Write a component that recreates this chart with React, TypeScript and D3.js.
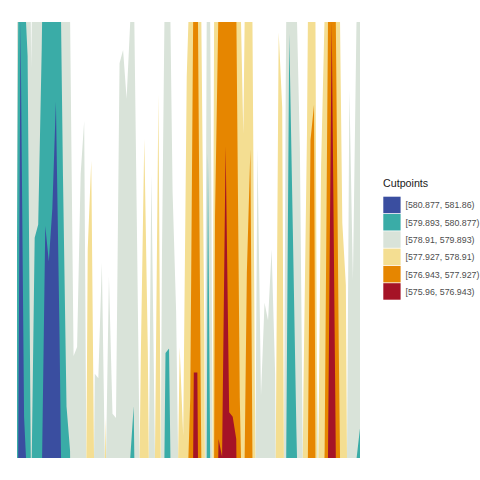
import React, { useRef, useEffect } from 'react';
import * as d3 from 'd3';

// Lake Huron levels, 1875-1972
const years = d3.range(1875, 1973);
const levels = [
  580.38, 581.86, 580.97, 580.80, 579.79, 580.39, 580.42, 580.82, 581.40, 581.32,
  581.44, 581.68, 581.17, 580.53, 580.01, 579.91, 579.14, 579.16, 579.55, 579.67,
  578.44, 578.24, 579.10, 579.09, 579.35, 578.82, 579.32, 579.01, 579.00, 579.80,
  579.83, 579.72, 579.89, 580.01, 579.37, 578.69, 578.19, 578.67, 579.55, 578.92,
  578.09, 579.37, 580.13, 580.14, 579.51, 579.24, 578.66, 578.86, 578.05, 577.79,
  576.75, 576.75, 577.82, 578.64, 580.58, 579.48, 577.38, 576.90, 576.94, 576.24,
  576.84, 576.85, 576.90, 577.79, 578.18, 577.51, 577.23, 578.42, 579.61, 579.05,
  579.26, 579.22, 579.38, 579.10, 577.95, 578.12, 579.75, 580.85, 580.41, 579.96,
  579.61, 578.76, 578.18, 577.21, 577.13, 579.10, 578.25, 577.91, 576.89, 575.96,
  576.80, 577.68, 578.38, 578.52, 579.74, 579.31, 579.89, 579.96,
];

const cutpoints = [575.96, 576.943, 577.927, 578.91, 579.893, 580.877, 581.86];
const origin = 578.91;

// legend order, top to bottom
const bandLabels = [
  '[580.877, 581.86)',
  '[579.893, 580.877)',
  '[578.91, 579.893)',
  '[577.927, 578.91)',
  '[576.943, 577.927)',
  '[575.96, 576.943)',
];
const bandColors = ['#3a4ea0', '#3aaca7', '#d9e3d9', '#f4de92', '#e68600', '#a51326'];

const W = 480, H = 480;
const panel = { left: 17, right: 360, top: 22, bottom: 458 };

function Horizon() {
  const ref = useRef<SVGSVGElement>(null);

  useEffect(() => {
    const svg = d3.select(ref.current);
    svg.selectAll('*').remove();

    const x = d3.scaleLinear()
      .domain([years[0], years[years.length - 1]])
      .range([panel.left, panel.right]);
    const y = d3.scaleLinear().domain([0, 1]).range([panel.bottom, panel.top]);

    svg.append('defs').append('clipPath').attr('id', 'panel-clip')
      .append('rect')
      .attr('x', panel.left).attr('y', panel.top)
      .attr('width', panel.right - panel.left)
      .attr('height', panel.bottom - panel.top);

    const g = svg.append('g').attr('clip-path', 'url(#panel-clip)');

    // bands: above origin (grey, teal, blue) then below origin (yellow, orange, red)
    const bands: { lo: number; hi: number; above: boolean; color: string }[] = [];
    for (let i = 3; i < 6; i++) {
      bands.push({ lo: cutpoints[i], hi: cutpoints[i + 1], above: true, color: bandColors[5 - i] });
    }
    for (let i = 2; i >= 0; i--) {
      bands.push({ lo: cutpoints[i], hi: cutpoints[i + 1], above: false, color: bandColors[5 - i] });
    }

    const data = years.map((yr, i) => ({ yr, v: levels[i] }));

    bands.forEach(b => {
      const bw = b.hi - b.lo;
      const h = (v: number) => (b.above ? (v - b.lo) / bw : (b.hi - v) / bw);
      const area = d3.area<{ yr: number; v: number }>()
        .x(d => x(d.yr))
        .y0(y(0))
        .y1(d => y(h(d.v)));
      g.append('path')
        .datum(data)
        .attr('fill', b.color)
        .attr('d', area);
    });

    // legend
    const lg = svg.append('g').attr('transform', 'translate(383,0)');
    lg.append('text')
      .attr('x', 0).attr('y', 187)
      .attr('font-size', 10.7)
      .attr('fill', '#1a1a1a')
      .text('Cutpoints');
    const keyH = 17.3;
    bandLabels.forEach((lab, i) => {
      lg.append('rect')
        .attr('x', 0.3).attr('y', 196.7 + i * keyH)
        .attr('width', 17.3).attr('height', keyH - 0.8)
        .attr('fill', bandColors[i]);
      lg.append('text')
        .attr('x', 22.5).attr('y', 196.7 + i * keyH + keyH / 2)
        .attr('dy', '0.35em')
        .attr('font-size', 8.8)
        .attr('fill', '#4d4d4d')
        .text(lab);
    });
  }, []);

  return (
    <svg ref={ref} width={W} height={H}
      style={{ position: 'absolute', left: 0, top: 0, background: '#fff', fontFamily: 'Liberation Sans, Arial, sans-serif' }} />
  );
}

export default function App() {
  return <Horizon />;
}
